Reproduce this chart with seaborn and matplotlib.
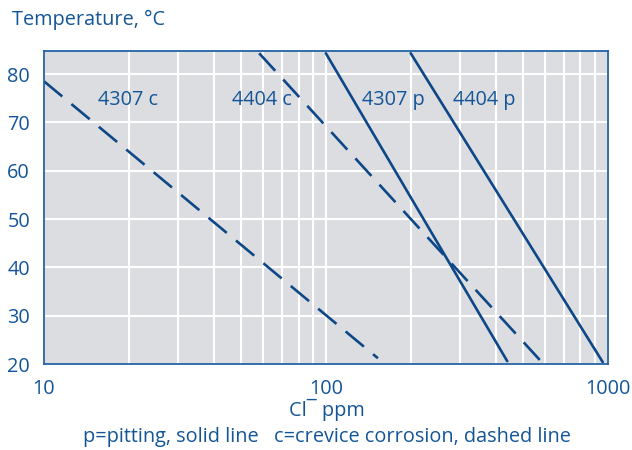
import pandas as pd
import seaborn as sns
import matplotlib.pyplot as plt

# Curves (straight lines on log-x), start and end points
names = ['4307 c', '4404 c', '4307 p', '4404 p']
kind = ['c', 'c', 'p', 'p']
cl_start = [10, 58, 100, 200]
cl_end = [153, 575, 440, 960]
temp_start = [78.5, 84.3, 84.3, 84.3]
temp_end = [21.2, 20.8, 20.6, 20.4]

# label positions (Cl ppm, temperature)
label_x = [15.5, 46.4, 134, 282]
label_y = [74.7, 74.7, 74.7, 74.7]

rows = []
for i, n in enumerate(names):
    rows.append({'series': n, 'kind': kind[i], 'cl': cl_start[i], 'temp': temp_start[i]})
    rows.append({'series': n, 'kind': kind[i], 'cl': cl_end[i], 'temp': temp_end[i]})
data = pd.DataFrame(rows)

sns.set_theme(style='darkgrid')
plt.rcParams['font.family'] = ['Open Sans', 'DejaVu Sans']

text_col = '#135597'
line_col = '#0d4787'
spine_col = '#2462a3'
fs = 14.3

fig = plt.figure(figsize=(6.32, 4.5), dpi=100)
ax = fig.add_axes([0.0696, 0.191, 0.892, 0.696])
ax.set_facecolor('#dcdde0')

sns.lineplot(data=data, x='cl', y='temp', units='series', estimator=None,
             style='kind', dashes={'p': '', 'c': (9, 4.5)},
             color=line_col, linewidth=1.9, legend=False, ax=ax)

ax.set_xscale('log')
ax.set_xlim(10, 1000)
ax.set_ylim(20, 84.8)
ax.set_yticks([20, 30, 40, 50, 60, 70, 80])
ax.set_xticks([10, 100, 1000])
ax.set_xticklabels(['10', '100', '1000'])
ax.grid(True, which='major', color='white', linewidth=1.5)
ax.grid(True, which='minor', axis='x', color='white', linewidth=1.5)
ax.tick_params(axis='both', which='both', length=0, labelsize=fs, colors=text_col)
ax.tick_params(axis='x', pad=11)
ax.tick_params(axis='y', pad=10)
ax.set_xlabel('')
ax.set_ylabel('')
for s in ax.spines.values():
    s.set_visible(True)
    s.set_color(spine_col)
    s.set_linewidth(1.3)

for i, n in enumerate(names):
    ax.text(label_x[i], label_y[i], n, color=text_col, fontsize=fs, ha='left', va='center')

fig.text(12 / 632, 1 - 20 / 450, 'Temperature, \u00b0C', color=text_col, fontsize=fs, ha='left', va='center')
fig.text(327 / 632, 1 - 410 / 450, 'Cl\u00af ppm', color=text_col, fontsize=fs, ha='center', va='center')
fig.text(327 / 632, 1 - 437 / 450, 'p=pitting, solid line   c=crevice corrosion, dashed line',
         color=text_col, fontsize=fs, ha='center', va='center')

fig.savefig('out.png', dpi=100)
